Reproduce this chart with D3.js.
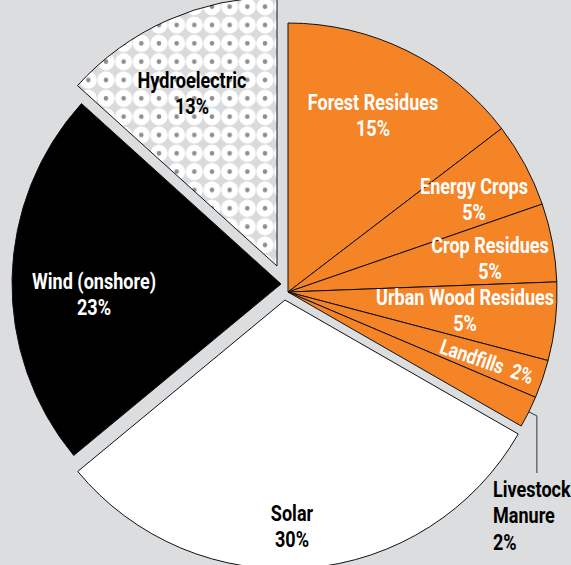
<!DOCTYPE html>
<html>
<head>
<meta charset="utf-8">
<script src="https://cdn.jsdelivr.net/npm/d3@7"></script>
<style>
body { margin: 0; background: #dcdddf; }
svg { display: block; }
text { font-family: Roboto, "Liberation Sans", sans-serif; font-weight: bold; font-size: 22px; }
</style>
</head>
<body>
<script>
var width = 571;
var height = 565;

// data, in pie order (clockwise from 12 o'clock)
var sources = ['Forest Residues', 'Energy Crops', 'Crop Residues', 'Urban Wood Residues',
    'Landfills', 'Livestock Manure', 'Solar', 'Wind (onshore)', 'Hydroelectric'];
var shares = [14.6, 5.1, 4.7, 4.7, 2.3, 1.9, 30.7, 22.7, 13.3];
var pctLabels = ['15%', '5%', '5%', '5%', '2%', '2%', '30%', '23%', '13%'];
var groups = ['biomass', 'biomass', 'biomass', 'biomass', 'biomass', 'biomass', 'solar', 'wind', 'hydro'];

// layout
var center = [283, 290];
var radius = 269;
var explode = { biomass: [5, 2], solar: [2, 10], wind: [-2, -6], hydro: [-6, -24] };
var fills = { biomass: '#f58427', solar: '#ffffff', wind: '#000000', hydro: 'url(#dots)' };
var textScale = 0.82;

// label anchors: [x, baseline of first line, anchor, colour]
var labelPos = [
    [373, 110, 'middle', '#fff'],
    [474, 194, 'middle', '#fff'],
    [490, 253, 'middle', '#fff'],
    [465, 305, 'middle', '#fff'],
    null,
    [493, 497, 'start', '#000'],
    [292, 521, 'middle', '#000'],
    [94, 289, 'middle', '#fff'],
    [192, 88, 'middle', '#000']
];

var data = sources.map(function(s, i) {
    return { name: s, value: shares[i], pct: pctLabels[i], group: groups[i] };
});

var pie = d3.pie()
    .sort(null)
    .value(function(d) { return d.value; });
var piedata = pie(data);

var arc = d3.arc()
    .innerRadius(0)
    .outerRadius(radius);

var svg = d3.select('body')
    .append('svg')
    .attr('width', width)
    .attr('height', height);

// hydro dot pattern
var hx = center[0] + explode.hydro[0];
var hy = center[1] + explode.hydro[1];
var pw = 17.67, ph = 18.33;
var pat = svg.append('defs').append('pattern')
    .attr('id', 'dots')
    .attr('patternUnits', 'userSpaceOnUse')
    .attr('width', pw)
    .attr('height', ph)
    .attr('x', 265 - hx - pw / 2)
    .attr('y', 6.7 - hy - ph / 2);
pat.append('rect').attr('width', pw).attr('height', ph).attr('fill', '#d9dadc');
pat.append('circle').attr('cx', pw / 2).attr('cy', ph / 2).attr('r', 8.6).attr('fill', '#fff');
pat.append('circle').attr('cx', pw / 2).attr('cy', ph / 2).attr('r', 2.3).attr('fill', '#8e8e8e');

function groupOrigin(g) {
    return [center[0] + explode[g][0], center[1] + explode[g][1]];
}

var slices = svg.selectAll('g.slice')
    .data(piedata)
    .enter()
    .append('g')
    .attr('class', 'slice')
    .attr('transform', function(d) {
        var o = groupOrigin(d.data.group);
        return 'translate(' + o[0] + ',' + o[1] + ')';
    });

slices.append('path')
    .attr('d', arc)
    .attr('fill', function(d) { return fills[d.data.group]; })
    .attr('stroke', '#111')
    .attr('stroke-width', 1)
    .attr('stroke-linejoin', 'miter');

// leader for Livestock Manure
var lm = piedata[5];
var mid = (lm.startAngle + lm.endAngle) / 2;
var lo = groupOrigin('biomass');
var p1 = [lo[0] + Math.sin(mid) * radius, lo[1] - Math.cos(mid) * radius];
var p2 = [lo[0] + Math.sin(mid) * (radius + 9), lo[1] - Math.cos(mid) * (radius + 9)];
svg.append('polyline')
    .attr('points', [p1, p2, [p2[0], 473]].map(function(p) { return p.join(','); }).join(' '))
    .attr('fill', 'none')
    .attr('stroke', '#333')
    .attr('stroke-width', 1);

// labels
piedata.forEach(function(d, i) {
    var lp = labelPos[i];
    if (!lp) return;
    var t = svg.append('text')
        .attr('transform', 'translate(' + lp[0] + ',' + lp[1] + ') scale(' + textScale + ',1)')
        .attr('text-anchor', lp[2])
        .attr('fill', lp[3]);
    var lines = d.data.name === 'Livestock Manure' ? ['Livestock', 'Manure', d.data.pct] : [d.data.name, d.data.pct];
    lines.forEach(function(l, j) {
        t.append('tspan').attr('x', 0).attr('dy', j === 0 ? 0 : 26.5).text(l);
    });
});

// Landfills label runs along its slice
var lf = piedata[4];
var lfAngle = (lf.startAngle + lf.endAngle) / 2 * 180 / Math.PI - 90;
svg.append('text')
    .attr('transform', 'translate(484.5,368.5) rotate(' + lfAngle + ') scale(' + textScale + ',1)')
    .attr('text-anchor', 'middle')
    .attr('fill', '#fff')
    .style('font-size', '21px')
    .style('white-space', 'pre')
    .text(lf.data.name + '  ' + lf.data.pct);
</script>
</body>
</html>
